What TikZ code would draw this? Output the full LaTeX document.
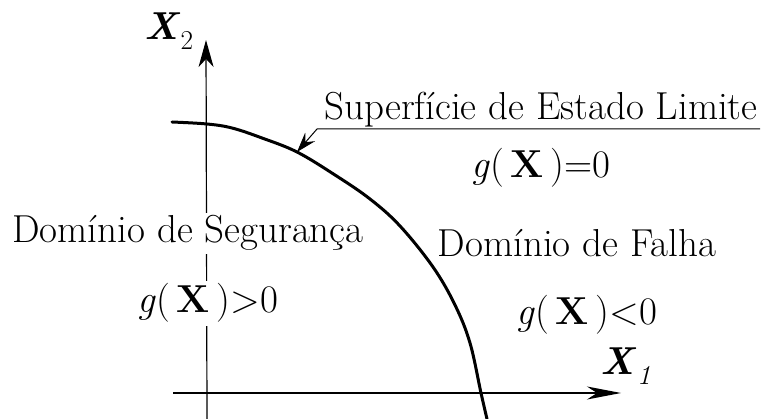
\documentclass[tikz,border=0pt]{standalone}
\usetikzlibrary{arrows.meta}
\begin{document}
\begin{tikzpicture}[x=1pt,y=-1pt,
  lbl/.style={inner sep=0pt,anchor=base,font=\fontsize{39}{42}\selectfont},
  masked/.style={fill=white,inner sep=3pt},
  axis/.style={line width=1.2pt},
  curvestyle/.style={line width=3pt,line join=round,line cap=round}]
\useasboundingbox (0,0) rectangle (763,419);
% axes
\coordinate (ybot) at (207,419);
\coordinate (ytop) at (206,40);
\coordinate (xleft) at (173,393);
\coordinate (xright) at (621,393);
\draw[axis,-{Stealth[length=27pt,width=15pt,inset=8pt]}] (ybot) -- (ytop);
\draw[axis,-{Stealth[length=34pt,width=13pt,inset=10pt]}] (xleft) -- (xright);
% limit state curve
\draw[curvestyle] plot[smooth,tension=0.6] coordinates {(172,122) (207,124) (232,128) (262,138) (297,152) (335,175) (370,199) (400,226) (433,267) (455,305) (470,343) (481,393) (487,419)};
% leader
\coordinate (ltip) at (297,152);
\coordinate (lknee) at (317,129);
\coordinate (lend) at (760,129);
\draw[line width=1pt,{Stealth[length=20pt,width=13pt,inset=7pt]}-] (ltip) -- (lknee) -- (lend);
% labels
\node[lbl] (x2) at (169,40) {\textbf{\textit{X}}\textsubscript{2}};
\node[lbl] (x1) at (626,375) {\textbf{\textit{X}}\textsubscript{\textit{1}}};
\node[lbl] (sup) at (541,120) {Superfície de Estado Limite};
\node[lbl] (g0) at (541,178) {\textit{g}(\,\textbf{X}\,)=0};
\node[lbl,masked] (ds) at (188,243) {Domínio de Segurança};
\node[lbl,masked] (gp) at (208,313) {\textit{g}(\,\textbf{X}\,)>0};
\node[lbl] (df) at (577,257) {Domínio de Falha};
\node[lbl] (gn) at (587,325) {\textit{g}(\,\textbf{X}\,)<0};
\end{tikzpicture}
\end{document}
